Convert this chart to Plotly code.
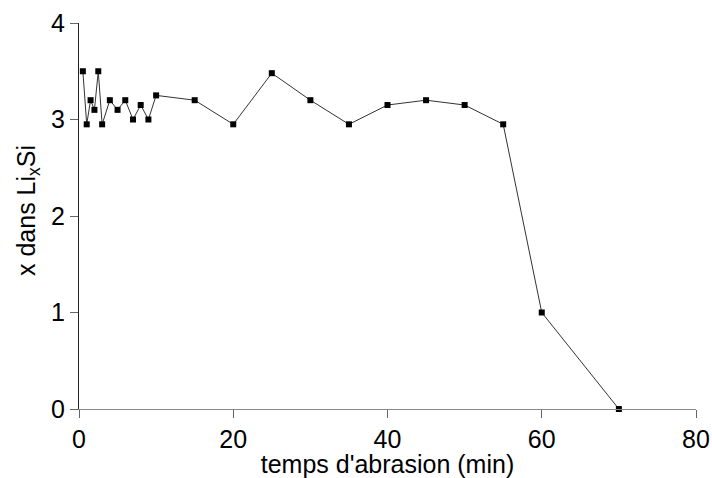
import plotly.graph_objects as go

temps = [0.5, 1, 1.5, 2, 2.5, 3, 4, 5, 6, 7, 8, 9, 10, 15, 20, 25, 30, 35, 40, 45, 50, 55, 60, 70]
x_li = [3.5, 2.95, 3.2, 3.1, 3.5, 2.95, 3.2, 3.1, 3.2, 3.0, 3.15, 3.0, 3.25,
        3.2, 2.95, 3.48, 3.2, 2.95, 3.15, 3.2, 3.15, 2.95, 1.0, 0.0]

x_ticks = [0, 20, 40, 60, 80]
y_ticks = [0, 1, 2, 3, 4]

fig = go.Figure()
fig.add_trace(go.Scatter(
    x=temps, y=x_li, mode="lines+markers",
    line=dict(color="#333333", width=1),
    marker=dict(symbol="square", size=6, color="black"),
    cliponaxis=False, showlegend=False,
))

font = "Liberation Sans, Arial, sans-serif"
fig.update_layout(
    width=712, height=478,
    margin=dict(l=79, r=16, t=23, b=69),
    plot_bgcolor="white", paper_bgcolor="white",
    font=dict(family=font, size=25, color="black"),
)
fig.update_xaxes(
    range=[0, 80], tickvals=x_ticks, ticktext=[str(v) for v in x_ticks],
    showgrid=False, zeroline=False, automargin=False,
    showline=True, linecolor="#888888", linewidth=1,
    ticks="outside", ticklen=8, tickcolor="#666666", tickwidth=1,
    tickfont=dict(size=25),
    title=dict(text="temps d'abrasion (min)", font=dict(size=25)),
)
fig.update_yaxes(
    range=[0, 4], tickvals=y_ticks, ticktext=[str(v) for v in y_ticks],
    showgrid=False, zeroline=False, automargin=False,
    showline=True, linecolor="#222222", linewidth=1,
    ticks="outside", ticklen=8, tickcolor="#666666", tickwidth=1,
    tickfont=dict(size=25),
)
fig.add_annotation(
    text="x dans Li<sub>x</sub>Si", textangle=-90,
    xref="paper", yref="paper", x=0, y=0.5,
    xanchor="center", yanchor="middle", xshift=-51, yshift=5,
    showarrow=False, font=dict(size=25),
)
fig.write_html("out.html", config={"displayModeBar": False},
               post_script="document.body.style.margin='0';")
